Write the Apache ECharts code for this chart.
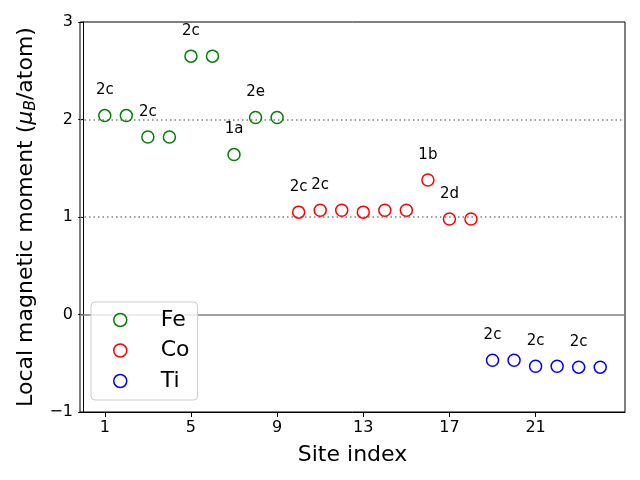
<!DOCTYPE html>
<html>
<head>
<meta charset="utf-8">
<script src="https://cdn.jsdelivr.net/npm/echarts@6/dist/echarts.min.js"></script>
<style>html,body{margin:0;padding:0;background:#fff}#c{width:640px;height:480px}</style>
</head>
<body>
<div id="c"></div>
<script>
const feSites = [1, 2, 3, 4, 5, 6, 7, 8, 9];
const feValues = [2.04, 2.04, 1.82, 1.82, 2.65, 2.65, 1.64, 2.02, 2.02];
const coSites = [10, 11, 12, 13, 14, 15, 16, 17, 18];
const coValues = [1.05, 1.07, 1.07, 1.05, 1.07, 1.07, 1.38, 0.98, 0.98];
const tiSites = [19, 20, 21, 22, 23, 24];
const tiValues = [-0.47, -0.47, -0.53, -0.53, -0.54, -0.54];
const annSites = [1, 3, 5, 7, 8, 10, 11, 16, 17, 19, 21, 23];
const annTexts = ['2c', '2c', '2c', '1a', '2e', '2c', '2c', '1b', '2d', '2c', '2c', '2c'];
const xTicks = [1, 5, 9, 13, 17, 21];
const yTicks = [-1, 0, 1, 2, 3];
const refDotted = [1, 2];
const refSolid = [0];

const allSites = feSites.concat(coSites, tiSites);
const allValues = feValues.concat(coValues, tiValues);
const valueAt = s => allValues[allSites.indexOf(s)];
const pts = (xs, ys) => xs.map((x, i) => [x, ys[i]]);
const FONT = 'DejaVu Sans';
const colors = {Fe: '#008000', Co: '#ff0000', Ti: '#0000ff'};

function scatter(name, xs, ys) {
  return {
    name: name, type: 'scatter', data: pts(xs, ys), symbol: 'circle', symbolSize: 12,
    itemStyle: {color: 'rgba(0,0,0,0)', borderColor: colors[name], borderWidth: 1.5, opacity: 1},
    z: 5, silent: true
  };
}

const chart = echarts.init(document.getElementById('c'), null, {renderer: 'canvas'});
const series = [
  scatter('Fe', feSites, feValues),
  scatter('Co', coSites, coValues),
  scatter('Ti', tiSites, tiValues),
  {
    name: 'ann', type: 'scatter', symbolSize: 0, silent: true, z: 6,
    itemStyle: {opacity: 1},
    data: annSites.map((s, i) => ({value: [s, valueAt(s)], label: {formatter: annTexts[i]}})),
    label: {show: true, position: 'inside', offset: [0, -25], color: '#000', fontSize: 15, fontFamily: FONT}
  },
  {
    name: 'refs', type: 'line', data: [], silent: true, z: 1,
    markLine: {
      silent: true, symbol: 'none', label: {show: false}, animation: false,
      data: refDotted.map(v => ({yAxis: v, lineStyle: {color: '#808080', width: 1.5, type: [1.5, 3]}}))
        .concat(refSolid.map(v => ({yAxis: v, lineStyle: {color: '#808080', width: 1.6, type: 'solid'}})))
    }
  }
];

chart.setOption({
  animation: false,
  backgroundColor: '#fff',
  grid: {left: 80, right: 15, top: 22, bottom: 68, show: true, borderColor: '#000', borderWidth: 1, containLabel: false},
  legend: {
    orient: 'vertical', left: 91, top: 302,
    data: ['Fe', 'Co', 'Ti'].map(n => ({name: n, icon: 'circle',
      itemStyle: {color: 'rgba(0,0,0,0)', borderColor: colors[n], borderWidth: 1.5, opacity: 1}})),
    itemWidth: 13, itemHeight: 13, itemGap: 6.5,
    padding: [6, 8, 7, 22],
    backgroundColor: 'rgba(255,255,255,0.8)', borderColor: '#cccccc', borderWidth: 1, borderRadius: 4,
    textStyle: {fontSize: 22, fontFamily: FONT, color: '#000', lineHeight: 24, padding: [0, 0, 0, 29]},
    z: 10
  },
  xAxis: {
    type: 'value', min: -0.15, max: 25.15,
    name: 'Site index', nameLocation: 'middle', nameGap: 32,
    nameTextStyle: {fontSize: 22, fontFamily: FONT, color: '#000'},
    axisLine: {show: true, onZero: false, lineStyle: {color: '#000', width: 1}},
    axisTick: {show: true, length: 5, lineStyle: {color: '#000', width: 1}, customValues: xTicks},
    axisLabel: {fontSize: 16, fontFamily: FONT, color: '#000', margin: 8, customValues: xTicks},
    splitLine: {show: false}
  },
  yAxis: {
    type: 'value', min: -1, max: 3, interval: 1,
    name: '{t|Local magnetic moment (}{m|μ}{s|B}{t|/atom)}', nameLocation: 'middle', nameGap: 40,
    nameTextStyle: {
      fontSize: 22, fontFamily: FONT, color: '#000',
      rich: {
        t: {fontSize: 22, fontFamily: FONT, color: '#000'},
        m: {fontSize: 22, fontFamily: FONT, fontStyle: 'italic', color: '#000'},
        s: {fontSize: 15.5, fontFamily: FONT, fontStyle: 'italic', color: '#000', verticalAlign: 'bottom', padding: [8, 0, 0, 0]}
      }
    },
    axisLine: {show: true, lineStyle: {color: '#000', width: 1}},
    axisTick: {show: true, length: 5, lineStyle: {color: '#000', width: 1}},
    axisLabel: {fontSize: 16, fontFamily: FONT, color: '#000', margin: 7,
      formatter: v => (yTicks.indexOf(v) >= 0 ? String(v).replace('-', '\u2212') : '')},
    splitLine: {show: false}
  },
  series: series
});
</script>
</body>
</html>
